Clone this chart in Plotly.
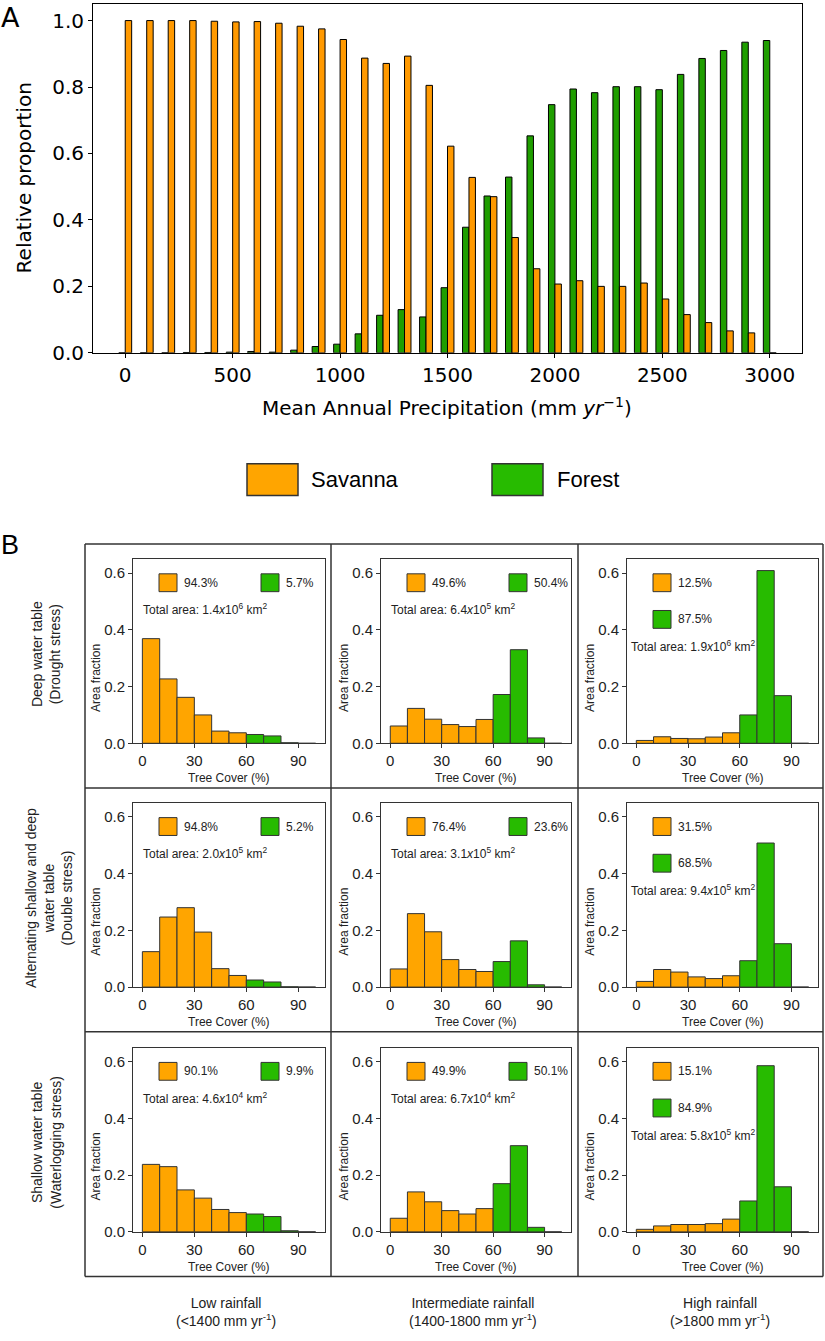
import plotly.graph_objects as go

W, H = 825, 1341

# ---------------- Panel A data ----------------
precip = list(range(0, 3001, 100))
savanna_prop = [1.0, 1.0, 1.0, 1.0, 0.998, 0.996, 0.997, 0.992, 0.983, 0.975,
                0.943, 0.887, 0.871, 0.893, 0.805, 0.622, 0.528, 0.470, 0.347, 0.253,
                0.207, 0.217, 0.200, 0.200, 0.210, 0.162, 0.115, 0.091, 0.066, 0.060, 0.0]
forest_prop = [0.0, 0.0, 0.0, 0.001, 0.001, 0.002, 0.004, 0.002, 0.008, 0.019,
               0.026, 0.057, 0.113, 0.130, 0.108, 0.196, 0.378, 0.472, 0.529, 0.653,
               0.747, 0.794, 0.783, 0.801, 0.801, 0.792, 0.838, 0.886, 0.910, 0.935, 0.940]

# ---------------- Panel B data ----------------
bin_left = [0, 10, 20, 30, 40, 50, 60, 70, 80, 90]
forest_threshold = 60

deep_low = [0.369, 0.227, 0.162, 0.100, 0.043, 0.037, 0.031, 0.026, 0.002, 0.0]
deep_mid = [0.061, 0.123, 0.085, 0.066, 0.059, 0.084, 0.172, 0.330, 0.019, 0.0]
deep_high = [0.010, 0.023, 0.017, 0.016, 0.022, 0.037, 0.100, 0.609, 0.168, 0.0]
alt_low = [0.125, 0.247, 0.280, 0.194, 0.065, 0.041, 0.025, 0.018, 0.001, 0.0]
alt_mid = [0.064, 0.259, 0.195, 0.097, 0.062, 0.055, 0.090, 0.163, 0.008, 0.0]
alt_high = [0.020, 0.062, 0.053, 0.036, 0.030, 0.040, 0.093, 0.508, 0.153, 0.0]
shallow_low = [0.238, 0.230, 0.148, 0.119, 0.079, 0.068, 0.063, 0.054, 0.004, 0.0]
shallow_mid = [0.048, 0.141, 0.106, 0.075, 0.063, 0.082, 0.170, 0.304, 0.016, 0.0]
shallow_high = [0.009, 0.021, 0.026, 0.026, 0.029, 0.045, 0.109, 0.586, 0.159, 0.0]

panel_values = [[deep_low, deep_mid, deep_high],
                [alt_low, alt_mid, alt_high],
                [shallow_low, shallow_mid, shallow_high]]

savanna_pct = [["94.3%", "49.6%", "12.5%"],
               ["94.8%", "76.4%", "31.5%"],
               ["90.1%", "49.9%", "15.1%"]]
forest_pct = [["5.7%", "50.4%", "87.5%"],
              ["5.2%", "23.6%", "68.5%"],
              ["9.9%", "50.1%", "84.9%"]]
total_area = [[("1.4", "6"), ("6.4", "5"), ("1.9", "6")],
              [("2.0", "5"), ("3.1", "5"), ("9.4", "5")],
              [("4.6", "4"), ("6.7", "4"), ("5.8", "5")]]

row_labels = ["Deep water table<br>(Drought stress)",
              "Alternating shallow and deep<br>water table<br>(Double stress)",
              "Shallow water table<br>(Waterlogging stress)"]
col_labels = ["Low rainfall<br>(&lt;1400 mm yr<sup>-1</sup>)",
              "Intermediate rainfall<br>(1400-1800 mm yr<sup>-1</sup>)",
              "High rainfall<br>(&gt;1800 mm yr<sup>-1</sup>)"]

# ---------------- styles ----------------
A_ORANGE = "#ff9900"
A_GREEN = "#1f9e00"
B_ORANGE = "#ffa500"
B_GREEN = "#27bb00"
FONT_A = "DejaVu Sans"
FONT_B = "Liberation Sans"


def xp(px):
    return px / W


def yp(py):
    return 1 - py / H


def ann(text, x, y, size, family=FONT_B, color="#222", xanchor="center",
        yanchor="middle", angle=0):
    return dict(text=text, x=xp(x), y=yp(y), xref="paper", yref="paper",
                xanchor=xanchor, yanchor=yanchor, showarrow=False, textangle=angle,
                font=dict(family=family, size=size, color=color))


fig = go.Figure()

# Panel A bars
fig.add_trace(go.Bar(x=precip, y=forest_prop, offset=-30, width=30,
                     marker=dict(color=A_GREEN, line=dict(color="black", width=1)),
                     xaxis="x", yaxis="y", showlegend=False, name="Forest"))
fig.add_trace(go.Bar(x=precip, y=savanna_prop, offset=0, width=30,
                     marker=dict(color=A_ORANGE, line=dict(color="black", width=1)),
                     xaxis="x", yaxis="y", showlegend=False, name="Savanna"))

layout = dict(
    width=W, height=H, margin=dict(l=0, r=0, t=0, b=0),
    paper_bgcolor="white", plot_bgcolor="white",
    barmode="overlay", showlegend=False,
    xaxis=dict(domain=[xp(93), xp(802)], range=[-150, 3150],
               tickvals=[0, 500, 1000, 1500, 2000, 2500, 3000],
               ticks="outside", ticklen=4, tickwidth=1, tickcolor="black",
               showline=True, linecolor="black", linewidth=1, mirror=True,
               showgrid=False, zeroline=False,
               tickfont=dict(family=FONT_A, size=20, color="black"), anchor="y"),
    yaxis=dict(domain=[yp(356), yp(4)], range=[0, 1.05],
               tickvals=[0, 0.2, 0.4, 0.6, 0.8, 1.0], tickformat=".1f",
               ticks="outside", ticklen=4, tickwidth=1, tickcolor="black",
               showline=True, linecolor="black", linewidth=1, mirror=True,
               showgrid=False, zeroline=False,
               tickfont=dict(family=FONT_A, size=20, color="black"), anchor="x"),
)

annotations = []
shapes = []

annotations.append(ann("A", 10, 18, 27, family=FONT_A, color="black"))
annotations.append(ann("Relative proportion", 24, 180, 20, family=FONT_A, color="black", angle=-90))
annotations.append(ann("Mean Annual Precipitation (mm <i>yr</i><sup>\u22121</sup>)", 447, 411, 20,
                       family=FONT_A, color="black"))

# Main legend
shapes.append(dict(type="rect", xref="paper", yref="paper", x0=xp(247), x1=xp(298),
                   y0=yp(500), y1=yp(468), fillcolor=B_ORANGE, line=dict(color="#333", width=1.5)))
shapes.append(dict(type="rect", xref="paper", yref="paper", x0=xp(492), x1=xp(543),
                   y0=yp(500), y1=yp(468), fillcolor=B_GREEN, line=dict(color="#333", width=1.5)))
annotations.append(ann("Savanna", 309, 484, 22, color="black", xanchor="left"))
annotations.append(ann("Forest", 555, 484, 22, color="black", xanchor="left"))

annotations.append(ann("B", 10, 550, 27, color="black"))

# Grid frame
gx = [85, 331, 578, 823]
gy = [549, 795, 1041, 1288]
for x in gx:
    shapes.append(dict(type="line", xref="paper", yref="paper", x0=xp(x), x1=xp(x),
                       y0=yp(gy[0]), y1=yp(gy[-1]), line=dict(color="#333", width=1.5)))
for y in gy:
    shapes.append(dict(type="line", xref="paper", yref="paper", x0=xp(gx[0]), x1=xp(gx[-1]),
                       y0=yp(y), y1=yp(y), line=dict(color="#333", width=1.5)))

col_px = [(133, 325), (381, 571), (627, 818)]
row_px = [(564, 750), (810, 996), (1057, 1243)]

bin_centers = [b + 5 for b in bin_left]
bar_colors = [B_GREEN if b >= forest_threshold else B_ORANGE for b in bin_left]

n = 2
for r in range(3):
    for c in range(3):
        L, R = col_px[c]
        T, Bm = row_px[r]
        xa = f"x{n}"
        ya = f"y{n}"
        fig.add_trace(go.Bar(x=bin_centers, y=panel_values[r][c], width=10,
                             marker=dict(color=bar_colors, line=dict(color="#333", width=1)),
                             xaxis=xa, yaxis=ya, showlegend=False))
        layout[f"xaxis{n}"] = dict(domain=[xp(L), xp(R)], range=[-5.4, 105.4],
                                   tickvals=[0, 30, 60, 90], ticks="outside", ticklen=4,
                                   tickcolor="#333", showline=True, linecolor="#333",
                                   linewidth=1, mirror=True, showgrid=False, zeroline=False,
                                   tickfont=dict(family=FONT_B, size=15, color="#222"),
                                   anchor=ya)
        layout[f"yaxis{n}"] = dict(domain=[yp(Bm), yp(T)], range=[0, 0.65],
                                   tickvals=[0, 0.2, 0.4, 0.6], tickformat=".1f",
                                   ticks="outside", ticklen=4, tickcolor="#333",
                                   showline=True, linecolor="#333", linewidth=1, mirror=True,
                                   showgrid=False, zeroline=False,
                                   tickfont=dict(family=FONT_B, size=15, color="#222"),
                                   anchor=xa)
        annotations.append(ann("Tree Cover (%)", (L + R) / 2, Bm + 35, 12))
        annotations.append(ann("Area fraction", L - 37, Bm - 66, 12, angle=-90))
        shapes.append(dict(type="rect", xref="paper", yref="paper",
                           x0=xp(L + 26), x1=xp(L + 44), y0=yp(T + 33), y1=yp(T + 15),
                           fillcolor=B_ORANGE, line=dict(color="#333", width=1)))
        annotations.append(ann(savanna_pct[r][c], L + 49, T + 24, 12, xanchor="left"))
        if c < 2:
            gx0 = L + 128
            gyc = T + 24
            shapes.append(dict(type="rect", xref="paper", yref="paper",
                               x0=xp(gx0), x1=xp(gx0 + 18), y0=yp(gyc + 9), y1=yp(gyc - 9),
                               fillcolor=B_GREEN, line=dict(color="#333", width=1)))
            annotations.append(ann(forest_pct[r][c], gx0 + 23, gyc, 12, xanchor="left"))
            tx, ty = L + 8, T + 51
        else:
            gyc = T + 61
            shapes.append(dict(type="rect", xref="paper", yref="paper",
                               x0=xp(L + 26), x1=xp(L + 44), y0=yp(gyc + 9), y1=yp(gyc - 9),
                               fillcolor=B_GREEN, line=dict(color="#333", width=1)))
            annotations.append(ann(forest_pct[r][c], L + 49, gyc, 12, xanchor="left"))
            tx, ty = L + 2, T + 88
        mant, ex = total_area[r][c]
        annotations.append(ann(f"Total area: {mant}<i>x</i>10<sup>{ex}</sup> km<sup>2</sup>",
                               tx, ty, 12, xanchor="left"))
        n += 1

row_x = [46, 49, 46]
for r in range(3):
    T, Bm = row_px[r]
    annotations.append(ann(row_labels[r], row_x[r], (T + Bm) / 2 + 3, 14, angle=-90))
for c in range(3):
    L, R = col_px[c]
    annotations.append(ann(col_labels[c], (L + R) / 2 - 3, 1324, 14))

layout["annotations"] = annotations
layout["shapes"] = shapes
fig.update_layout(**layout)

fig.write_html("out.html", config={"displayModeBar": False},
               post_script="document.body.style.margin='0px';"
                           "document.body.style.overflow='hidden';")
